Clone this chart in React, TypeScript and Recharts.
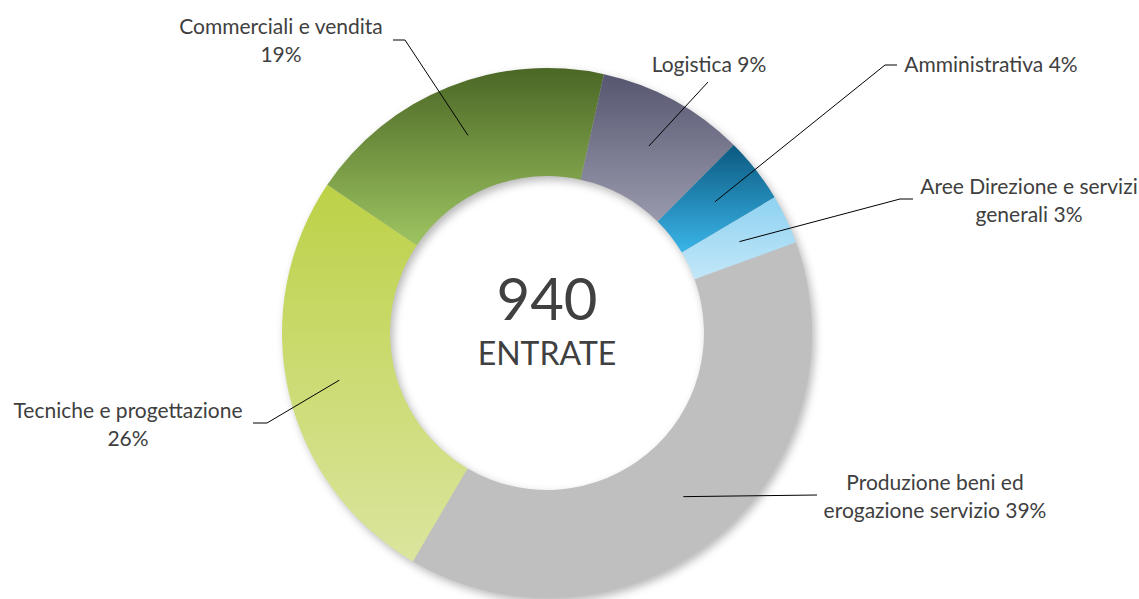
import React from "react";
import { PieChart, Pie, Cell } from "recharts";

const categories = [
  "Produzione beni ed erogazione servizio",
  "Tecniche e progettazione",
  "Commerciali e vendita",
  "Logistica",
  "Amministrativa",
  "Aree Direzione e servizi generali",
];
const shares = [39, 26, 19, 9, 4, 3];
const totalEntrate = 940;
const centerCaption = "ENTRATE";

// how each label is broken on lines; the percent goes on the last line
const labelLines = [
  ["Produzione beni ed", "erogazione servizio"],
  ["Tecniche e progettazione", ""],
  ["Commerciali e vendita", ""],
  ["Logistica"],
  ["Amministrativa"],
  ["Aree Direzione e servizi", "generali"],
];

// [top, bottom] of the vertical gradient for each slice
const sliceColors = [
  ["#bfbfbf", "#bfbfbf"],
  ["#bdd147", "#dbe59e"],
  ["#4b6725", "#9dc461"],
  ["#565670", "#9a9aae"],
  ["#0b5980", "#3ab5e8"],
  ["#8ed2f1", "#c2e7f8"],
];

// where the labels sit and where the leader lines bend
const labelLayout = [
  { x: 935, y: 490, bend: [[817, 495]] },
  { x: 128, y: 418, bend: [[267, 423], [253, 423]] },
  { x: 281, y: 34, bend: [[405, 40], [393, 40]] },
  { x: 709, y: 72, bend: [[708, 82]] },
  { x: 991, y: 72, bend: [[885, 65], [897, 65]] },
  { x: 1029, y: 194, bend: [[900, 199], [913, 199]] },
];

const data = categories.map((name, i) => ({ name, value: shares[i] }));

const W = 1139;
const H = 599;
const CX = 547;
const CY = 333;
const R_IN = 157;
const R_OUT = 265;
const FONT = "Lato, 'Open Sans', sans-serif";
const TEXT = "#404040";

const renderLabel = (props: any) => {
  const { cx, cy, midAngle, innerRadius, outerRadius, index } = props;
  const RAD = Math.PI / 180;
  const r = (innerRadius + outerRadius) / 2 + 2;
  const ax = cx + r * Math.cos(-midAngle * RAD);
  const ay = cy + r * Math.sin(-midAngle * RAD);
  const lay = labelLayout[index];
  const pts = [[ax, ay], ...lay.bend].map((p) => p.join(",")).join(" ");
  const lines = labelLines[index].slice();
  const last = lines.length - 1;
  lines[last] = (lines[last] + " " + shares[index] + "%").trim();

  return (
    <g key={"lbl-" + index}>
      <polyline points={pts} fill="none" stroke="#000" strokeWidth={1} />
      <text
        x={lay.x}
        y={lay.y}
        textAnchor="middle"
        fontFamily={FONT}
        fontSize={21}
        fill={TEXT}
      >
        {lines.map((ln, j) => (
          <tspan key={j} x={lay.x} dy={j === 0 ? 0 : 28}>
            {ln}
          </tspan>
        ))}
      </text>
    </g>
  );
};

// soft shadow of the ring, drawn underneath the chart
const ringPath =
  `M ${CX - R_OUT} ${CY} a ${R_OUT} ${R_OUT} 0 1 0 ${2 * R_OUT} 0 a ${R_OUT} ${R_OUT} 0 1 0 ${-2 * R_OUT} 0 Z ` +
  `M ${CX - R_IN} ${CY} a ${R_IN} ${R_IN} 0 1 0 ${2 * R_IN} 0 a ${R_IN} ${R_IN} 0 1 0 ${-2 * R_IN} 0 Z`;

export default function App() {
  return (
    <div style={{ position: "absolute", left: 0, top: 0, width: W, height: H, background: "#fff" }}>
      <svg width={W} height={H} style={{ position: "absolute", left: 0, top: 0 }}>
        <defs>
          <filter id="ringShadow" x="-20%" y="-20%" width="140%" height="140%">
            <feGaussianBlur stdDeviation="4" />
          </filter>
        </defs>
        <path
          d={ringPath}
          fillRule="evenodd"
          fill="rgba(0,0,0,0.28)"
          transform="translate(3,4)"
          filter="url(#ringShadow)"
        />
      </svg>
      <PieChart width={W} height={H} margin={{ top: 0, right: 0, bottom: 0, left: 0 }}>
        <defs>
          {sliceColors.map((c, i) => (
            <linearGradient key={i} id={"slice" + i} x1="0" y1="0" x2="0" y2="1">
              <stop offset="0%" stopColor={c[0]} />
              <stop offset="100%" stopColor={c[1]} />
            </linearGradient>
          ))}
        </defs>
        <Pie
          data={data}
          dataKey="value"
          nameKey="name"
          cx={CX}
          cy={CY}
          innerRadius={R_IN}
          outerRadius={R_OUT}
          startAngle={20}
          endAngle={-340}
          stroke="none"
          label={renderLabel}
          labelLine={false}
          isAnimationActive={false}
        >
          {data.map((d, i) => (
            <Cell key={d.name} fill={`url(#slice${i})`} />
          ))}
        </Pie>
      </PieChart>
      <svg
        width={W}
        height={H}
        style={{ position: "absolute", left: 0, top: 0, pointerEvents: "none" }}
      >
        <text x={CX} y={320} textAnchor="middle" fontFamily={FONT} fontSize={58} fill={TEXT}>
          {totalEntrate}
        </text>
        <text x={CX} y={365} textAnchor="middle" fontFamily={FONT} fontSize={32} fill={TEXT}>
          {centerCaption}
        </text>
      </svg>
    </div>
  );
}
